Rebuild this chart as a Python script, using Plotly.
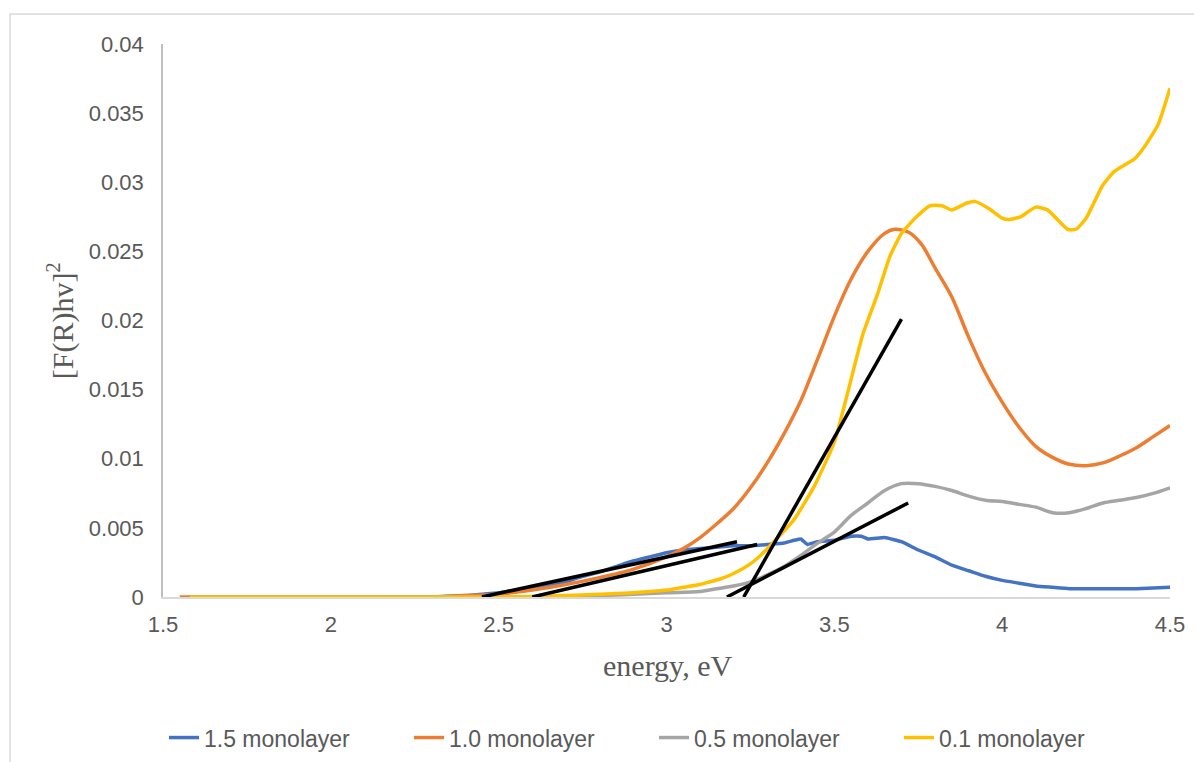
import plotly.graph_objects as go

# ---- data ----
e_15 = [1.58, 2.0, 2.3, 2.4, 2.45, 2.5, 2.55, 2.6, 2.65, 2.7, 2.75, 2.8, 2.85, 2.9, 2.95, 3.0, 3.05, 3.1,
        3.15, 3.2, 3.25, 3.3, 3.35, 3.38, 3.40, 3.42, 3.45, 3.5, 3.55, 3.58, 3.6, 3.65, 3.7, 3.75, 3.8,
        3.85, 3.9, 3.95, 4.0, 4.05, 4.1, 4.15, 4.2, 4.3, 4.4, 4.5]
v_15 = [0, 0, 0, 0.0001, 0.0002, 0.0003, 0.0005, 0.0007, 0.0009, 0.0011, 0.0015, 0.0018, 0.0022, 0.0026,
        0.0029, 0.0032, 0.0034, 0.0035, 0.0036, 0.0037, 0.0037, 0.0038, 0.0039, 0.0041, 0.0042, 0.0038,
        0.0040, 0.0041, 0.0044, 0.0044, 0.0042, 0.0043, 0.0040, 0.0034, 0.0029, 0.0023, 0.0019, 0.0015,
        0.0012, 0.0010, 0.0008, 0.0007, 0.0006, 0.0006, 0.0006, 0.0007]

e_10 = [1.55, 2.0, 2.3, 2.4, 2.5, 2.6, 2.7, 2.8, 2.9, 3.0, 3.05, 3.1, 3.15, 3.2, 3.25, 3.3, 3.35, 3.4,
        3.45, 3.5, 3.55, 3.6, 3.65, 3.68, 3.72, 3.76, 3.8, 3.85, 3.9, 3.95, 4.0, 4.05, 4.1, 4.15, 4.2,
        4.25, 4.3, 4.35, 4.4, 4.45, 4.5]
v_10 = [0, 0, 0, 0.0001, 0.0002, 0.0005, 0.0009, 0.0014, 0.0020, 0.0029, 0.0035, 0.0043, 0.0053, 0.0064,
        0.0079, 0.0097, 0.0118, 0.0142, 0.0172, 0.0203, 0.0230, 0.0250, 0.0263, 0.0266, 0.0264, 0.0255,
        0.0238, 0.0217, 0.0188, 0.0162, 0.0141, 0.0123, 0.0109, 0.0101, 0.0096, 0.0095, 0.0097, 0.0102,
        0.0108, 0.0116, 0.0124]

e_05 = [1.58, 2.5, 2.8, 2.9, 3.0, 3.1, 3.15, 3.2, 3.25, 3.3, 3.35, 3.4, 3.45, 3.5, 3.55, 3.6, 3.65, 3.7,
        3.75, 3.8, 3.85, 3.9, 3.95, 4.0, 4.05, 4.1, 4.15, 4.2, 4.25, 4.3, 4.35, 4.4, 4.45, 4.5]
v_05 = [0, 0, 0.0001, 0.0002, 0.0003, 0.0004, 0.0006, 0.0008, 0.0011, 0.0016, 0.0022, 0.0030, 0.0039,
        0.0047, 0.0059, 0.0068, 0.0077, 0.0082, 0.0082, 0.0080, 0.0077, 0.0073, 0.0070, 0.0069, 0.0067,
        0.0065, 0.0061, 0.0061, 0.0064, 0.0068, 0.0070, 0.0072, 0.0075, 0.0079]

e_01 = [1.58, 2.5, 2.7, 2.8, 2.9, 3.0, 3.05, 3.1, 3.13, 3.16, 3.2, 3.25, 3.28, 3.32, 3.38, 3.44, 3.5,
        3.54, 3.585, 3.63, 3.665, 3.7, 3.745, 3.785, 3.82, 3.85, 3.895, 3.92, 3.96, 4.0, 4.02, 4.055,
        4.1, 4.135, 4.195, 4.22, 4.25, 4.3, 4.335, 4.395, 4.425, 4.465, 4.5]
v_01 = [0, 0, 0.0001, 0.0002, 0.0003, 0.0005, 0.0007, 0.0009, 0.0011, 0.0013, 0.0017, 0.0024, 0.0030,
        0.0040, 0.0056, 0.0080, 0.0112, 0.0148, 0.0190, 0.0220, 0.0246, 0.0263, 0.0275, 0.0283, 0.0283,
        0.0280, 0.0285, 0.0286, 0.0281, 0.0274, 0.0273, 0.0275, 0.0282, 0.0280, 0.0266, 0.0266, 0.0274,
        0.0298, 0.0308, 0.0317, 0.0326, 0.0342, 0.0368]

series_names = ["1.5 monolayer", "1.0 monolayer", "0.5 monolayer", "0.1 monolayer"]
series_colors = ["#4472C4", "#ED7D31", "#A5A5A5", "#FFC000"]
series_smooth = [0.3, 0.8, 0.8, 0.5]

# tangent (Tauc) lines: start/end energy and value
tan_x = [[2.45, 3.21], [2.60, 3.27], [3.23, 3.70], [3.18, 3.72]]
tan_y = [[0, 0.0040], [0, 0.0038], [0, 0.0201], [0, 0.0068]]

x_ticks = [1.5, 2, 2.5, 3, 3.5, 4, 4.5]
x_ticktext = ["1.5", "2", "2.5", "3", "3.5", "4", "4.5"]
y_ticks = [0, 0.005, 0.01, 0.015, 0.02, 0.025, 0.03, 0.035, 0.04]
y_ticktext = ["0", "0.005", "0.01", "0.015", "0.02", "0.025", "0.03", "0.035", "0.04"]

# ---- figure ----
fig = go.Figure()
for e, v, name, col, sm in zip([e_15, e_10, e_05, e_01], [v_15, v_10, v_05, v_01],
                               series_names, series_colors, series_smooth):
    fig.add_trace(go.Scatter(x=e, y=v, mode="lines", name=name,
                             line=dict(color=col, width=3.5, shape="spline", smoothing=sm)))
for tx, ty in zip(tan_x, tan_y):
    fig.add_trace(go.Scatter(x=tx, y=ty, mode="lines", showlegend=False,
                             line=dict(color="black", width=3.5)))

sans = "Liberation Sans, Arial, sans-serif"
serif = "Liberation Serif, Times New Roman, serif"
grey = "#595959"

fig.update_layout(
    width=1202, height=762,
    margin=dict(l=155, r=40, t=36, b=172),
    paper_bgcolor="white", plot_bgcolor="white",
    showlegend=True,
    legend=dict(orientation="h", x=0.001, xanchor="left", y=-0.252, yanchor="middle",
                font=dict(family=sans, size=23, color=grey),
                entrywidth=200, entrywidthmode="pixels", bgcolor="rgba(0,0,0,0)"),
    xaxis=dict(range=[1.5, 4.5], tickvals=x_ticks, ticktext=x_ticktext, showgrid=False,
               zeroline=False, showline=True, linecolor="#D9D9D9", linewidth=1.5, ticks="",
               ticklabelstandoff=7, tickfont=dict(family=sans, size=22, color=grey)),
    yaxis=dict(range=[0, 0.04], tickvals=y_ticks, ticktext=y_ticktext, showgrid=False,
               zeroline=False, showline=True, linecolor="#BFBFBF", linewidth=1.5, ticks="",
               ticklabelstandoff=13, tickfont=dict(family=sans, size=22, color=grey)),
    annotations=[
        dict(text="energy, eV", xref="paper", yref="paper", x=0.5005, y=-0.124,
             xanchor="center", yanchor="middle", showarrow=False,
             font=dict(family=serif, size=30, color=grey)),
        dict(text="[F(R)hv]<sup>2</sup>", xref="paper", yref="paper", x=-0.1015, y=0.5,
             xanchor="center", yanchor="middle", textangle=-90, showarrow=False,
             font=dict(family=serif, size=30, color=grey)),
    ],
    shapes=[dict(type="rect", xref="paper", yref="paper", x0=-0.1519, x1=1.1, y0=-0.5, y1=1.0542,
                 line=dict(color="#D9D9D9", width=1.5), fillcolor="rgba(0,0,0,0)", layer="below")],
)

fig.write_html("out.html")
